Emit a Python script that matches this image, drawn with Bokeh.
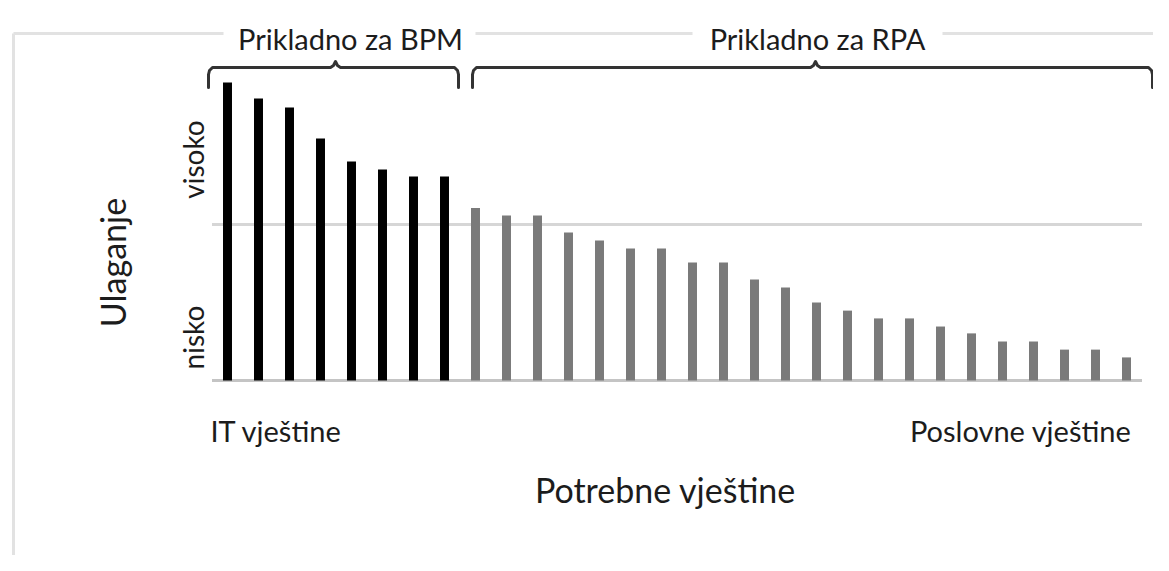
import math
from bokeh.plotting import figure
from bokeh.models import Range1d, Label
from bokeh.embed import file_html
from bokeh.resources import INLINE

# ---------------- data ----------------
bpm_values = [9.55, 9.04, 8.75, 7.76, 7.02, 6.76, 6.54, 6.54]
rpa_values = [5.53, 5.29, 5.29, 4.74, 4.49, 4.23, 4.23, 3.78, 3.78, 3.24, 2.98,
              2.50, 2.24, 1.99, 1.99, 1.73, 1.51, 1.25, 1.25, 0.99, 0.99, 0.74]
group_titles = ["Prikladno za BPM", "Prikladno za RPA"]
y_axis_title = "Ulaganje"
y_level_labels = ["nisko", "visoko"]
x_end_labels = ["IT vještine", "Poslovne vještine"]
x_axis_title = "Potrebne vještine"
mid_level = 5

bpm_x = list(range(len(bpm_values)))
rpa_x = list(range(len(bpm_values), len(bpm_values) + len(rpa_values)))
n_bars = len(bpm_values) + len(rpa_values)

# ---------------- layout ----------------
W, H = 1153, 555
FONT = "Lato"
TXT = "#1c1c1c"

# bar i sits at 227 + 31*i px; baseline at 380 px from top, 31.2 px per level unit
x0 = -227 / 31.0
y0 = -(H - 380) / 31.2
p = figure(width=W, height=H, output_backend="svg", toolbar_location=None,
           x_range=Range1d(x0, x0 + W / 31.0), y_range=Range1d(y0, y0 + H / 31.2),
           x_axis_location=None, y_axis_location=None,
           min_border=0, outline_line_color=None,
           background_fill_color="white", border_fill_color="white")
p.xgrid.visible = False
p.ygrid.visible = False
p.extra_x_ranges = {"px": Range1d(0, W)}
p.extra_y_ranges = {"px": Range1d(0, H)}


def sx(x):
    return x


def sy(y):
    return H - y


PX = dict(x_range_name="px", y_range_name="px")

# outer light frame (top line broken by titles, left line)
p.segment(x0=[sx(13), sx(475), sx(942), sx(13)],
          y0=[sy(33), sy(33), sy(33), sy(33)],
          x1=[sx(223), sx(692), sx(1169), sx(13)],
          y1=[sy(33), sy(33), sy(33), sy(575)],
          line_color="#e2e2e2", line_width=3, **PX)

# gridline and baseline
p.segment(x0=[-0.5, -0.5], y0=[mid_level, 0], x1=[n_bars - 0.5, n_bars - 0.5],
          y1=[mid_level, 0], line_color=["#d6d6d6", "#c4c4c4"], line_width=[3, 3])

# bars
p.vbar(x=bpm_x, top=bpm_values, bottom=0, width=0.29, fill_color="#000000", line_color=None)
p.vbar(x=rpa_x, top=rpa_values, bottom=0, width=0.29, fill_color="#7a7a7a", line_color=None)


# braces
def brace(xa, xb, xm, ytop=67, ybot=87, tip=61):
    pts = [(xa, ybot), (xa, ytop + 7), (xa + 1, ytop + 3), (xa + 4, ytop),
           (xm - 5, ytop), (xm - 2, ytop - 2), (xm, tip), (xm + 2, ytop - 2), (xm + 5, ytop),
           (xb - 4, ytop), (xb - 1, ytop + 3), (xb, ytop + 7), (xb, ybot)]
    return [sx(a) for a, b in pts], [sy(b) for a, b in pts]


for bx0, bx1, bxm in [(208, 458, 335), (472, 1152, 815)]:
    xs, ys = brace(bx0, bx1, bxm)
    p.line(xs, ys, line_color="#333333", line_width=3, line_join="round", line_cap="round", **PX)


def lab(text, x, y, size, align="center", angle=0.0):
    p.add_layout(Label(x=sx(x), y=sy(y), text=text, text_font=FONT, text_font_size=size,
                       text_color=TXT, text_align=align, text_baseline="alphabetic",
                       angle=angle, **PX))


lab(group_titles[0], 350, 38, "29px")
lab(group_titles[1], 817, 38, "29px")
lab(x_end_labels[0], 210, 430, "29px", align="left")
lab(x_end_labels[1], 1131, 430, "29px", align="right")
lab(x_axis_title, 665, 489, "34px")
lab(y_axis_title, 112, 262, "34px", angle=math.pi / 2)
lab(y_level_labels[1], 192, 159, "28px", angle=math.pi / 2)
lab(y_level_labels[0], 192, 337, "28px", angle=math.pi / 2)

open("out.html", "w").write(file_html(p, INLINE))
